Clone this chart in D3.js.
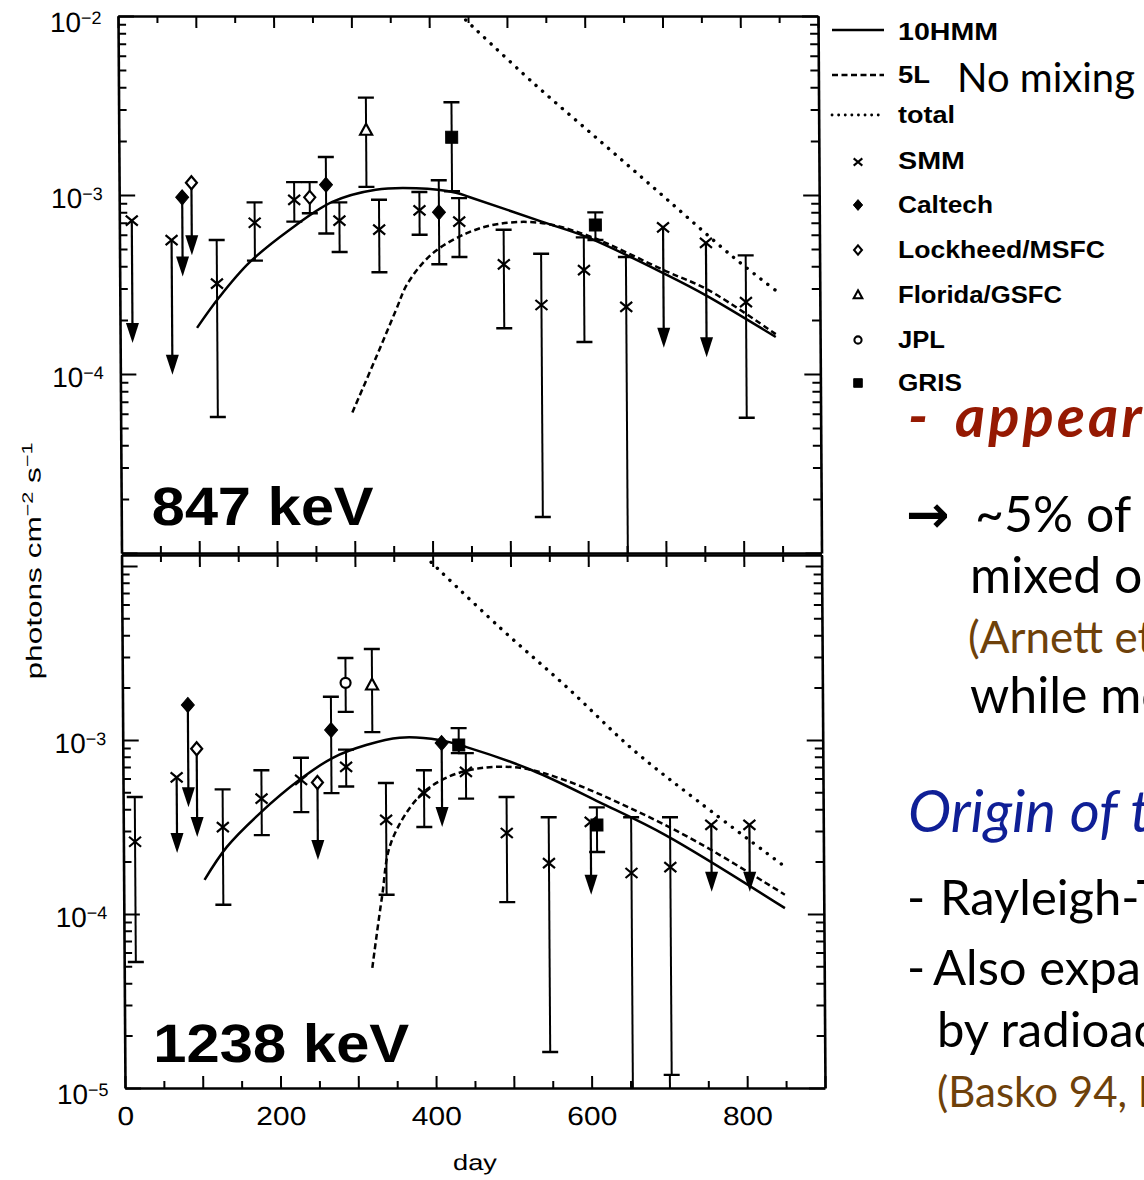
<!DOCTYPE html>
<html>
<head>
<meta charset="utf-8">
<script src="https://cdn.jsdelivr.net/npm/d3@7"></script>
<style>
  html, body { margin: 0; padding: 0; background: #fff; }
  svg { display: block; }
</style>
</head>
<body>
<svg id="fig" width="1144" height="1180"></svg>
<script>
// ------------------------------------------------------------------
// Gamma-ray line fluxes of SN 1987A (56Co decay lines) versus time
// ------------------------------------------------------------------

// axis labelling
const dayLabels = [0, 200, 400, 600, 800];
const decades847 = [-2, -3, -4];
const decades1238 = [-3, -4, -5];

// detections: [day, flux, lower, upper]  (lower 0 = bar runs off the axis)
// upper limits: [day, limit, arrow end]
// ---- 847 keV ----
const smm847 = [
  [125, 3.2e-4, 5.75e-5, 5.6e-4],
  [174, 7.0e-4, 4.3e-4, 9.1e-4],
  [225, 9.4e-4, 7.1e-4, 1.18e-3],
  [283, 7.2e-4, 4.8e-4, 9.1e-4],
  [334, 6.4e-4, 3.7e-4, 9.4e-4],
  [386, 8.2e-4, 6.0e-4, 1.04e-3],
  [437, 7.1e-4, 4.5e-4, 9.6e-4],
  [494, 4.1e-4, 1.8e-4, 6.4e-4],
  [542, 2.43e-4, 1.59e-5, 4.7e-4],
  [597, 3.8e-4, 1.51e-4, 5.8e-4],
  [651, 2.37e-4, 0, 4.5e-4],
  [805, 2.52e-4, 5.7e-5, 4.6e-4]
];
const smm847Limits = [
  [16, 7.2e-4, 1.49e-4],
  [67, 5.6e-4, 9.9e-5],
  [699, 6.6e-4, 1.4e-4],
  [754, 5.4e-4, 1.24e-4]
];
const caltech847 = [
  [266, 1.14e-3, 6.1e-4, 1.63e-3],
  [411, 8.0e-4, 4.1e-4, 1.21e-3]
];
const caltech847Limits = [[81, 9.7e-4, 3.5e-4]];
const lockheed847 = [[245, 9.7e-4, 7.9e-4, 1.18e-3]];
const lockheed847Limits = [[93, 1.17e-3, 4.6e-4]];
const florida847 = [[318, 2.3e-3, 1.11e-3, 3.5e-3]];
const jpl847 = [];
const gris847 = [
  [428, 2.1e-3, 1.05e-3, 3.3e-3],
  [612, 6.8e-4, 5.6e-4, 8.0e-4]
];
// model light curves: [day, flux]
const hmm847 = [
  [99, 1.81e-4], [128, 2.69e-4], [167, 4.2e-4], [219, 6.4e-4], [274, 9.15e-4],
  [330, 1.07e-3], [382, 1.09e-3], [433, 1.03e-3], [450, 9.75e-4], [543, 7.1e-4],
  [602, 5.8e-4], [704, 3.57e-4], [753, 2.76e-4], [843, 1.61e-4]
];
const l5847 = [
  [298, 6.1e-5], [329, 1.24e-4], [355, 2.28e-4], [370, 3.2e-4], [402, 4.7e-4],
  [446, 6.1e-4], [488, 6.9e-4], [540, 7.0e-4], [600, 5.98e-4], [702, 3.76e-4],
  [757, 2.94e-4], [843, 1.67e-4]
];
const total847 = [
  [447, 9.5e-3], [532, 4.28e-3], [620, 1.98e-3], [705, 9.4e-4], [789, 4.5e-4], [846, 2.87e-4]
];

// ---- 1238 keV ----
const smm1238 = [
  [15, 2.6e-4, 5.3e-5, 4.7e-4],
  [128, 3.16e-4, 1.13e-4, 5.2e-4],
  [178, 4.6e-4, 2.84e-4, 6.7e-4],
  [229, 5.9e-4, 3.85e-4, 7.9e-4],
  [287, 7.0e-4, 5.4e-4, 8.8e-4],
  [338, 3.47e-4, 1.29e-4, 5.66e-4],
  [387, 4.95e-4, 3.16e-4, 6.7e-4],
  [441, 6.55e-4, 4.6e-4, 8.4e-4],
  [493, 2.92e-4, 1.17e-4, 4.7e-4],
  [547, 1.96e-4, 1.61e-5, 3.6e-4],
  [653, 1.72e-4, 0, 3.6e-4],
  [703, 1.86e-4, 1.19e-5, 3.6e-4]
];
const smm1238Limits = [
  [69, 6.1e-4, 2.24e-4],
  [601, 3.38e-4, 1.29e-4],
  [756, 3.25e-4, 1.34e-4],
  [805, 3.25e-4, 1.34e-4]
];
const caltech1238 = [[268, 1.14e-3, 4.95e-4, 1.77e-3]];
const caltech1238Limits = [[84, 1.59e-3, 4.1e-4], [410, 9.6e-4, 3.16e-4]];
const lockheed1238 = [];
const lockheed1238Limits = [[95, 8.9e-4, 2.77e-4], [250, 5.7e-4, 2.04e-4]];
const florida1238 = [[321, 2.07e-3, 1.11e-3, 3.33e-3]];
const jpl1238 = [[287, 2.13e-3, 1.45e-3, 2.96e-3]];
const gris1238 = [
  [432, 9.35e-4, 8.4e-4, 1.17e-3],
  [609, 3.25e-4, 2.27e-4, 4.1e-4]
];
const hmm1238 = [
  [104, 1.57e-4], [133, 2.43e-4], [176, 3.8e-4], [227, 5.9e-4], [270, 7.9e-4],
  [313, 9.35e-4], [356, 1.03e-3], [407, 1.0e-3], [442, 9.1e-4], [526, 6.7e-4],
  [612, 4.4e-4], [697, 2.84e-4], [850, 1.08e-4]
];
const l51238 = [
  [319, 4.9e-5], [332, 1.25e-4], [344, 2.56e-4], [380, 4.7e-4], [417, 6.1e-4],
  [461, 6.9e-4], [512, 6.9e-4], [567, 5.9e-4], [650, 4.1e-4], [740, 2.56e-4],
  [850, 1.29e-4]
];
const total1238 = [
  [398, 1.05e-2], [485, 4.46e-3], [571, 2.02e-3], [656, 8.8e-4], [742, 4.35e-4], [851, 1.86e-4]
];

// legend entries
const legendLines = [
  { name: "10HMM", dash: null },
  { name: "5L", dash: "6 3.5" },
  { name: "total", dash: "0.1 6.5" }
];
const legendMarkers = ["SMM", "Caltech", "Lockheed/MSFC", "Florida/GSFC", "JPL", "GRIS"];

// ------------------------------------------------------------------
const svg = d3.select("#fig");
const INK = "#000";
const plotFont = "'Liberation Sans', Arial, Helvetica, sans-serif";

const x = d3.scaleLinear().domain([0, 900]).range([121.5, 821.5]);

const panels = [
  {
    label: "847 keV", labelAt: [152, 525, 222],
    y: d3.scaleLog().domain([1e-5, 1e-2]).range([553, 16]),
    decades: decades847, showDays: false,
    sets: {
      SMM: [smm847, smm847Limits], Caltech: [caltech847, caltech847Limits],
      Lockheed: [lockheed847, lockheed847Limits], Florida: [florida847, []],
      JPL: [jpl847, []], GRIS: [gris847, []]
    },
    hmm: hmm847, l5: l5847, total: total847
  },
  {
    label: "1238 keV", labelAt: [150, 1062, 256],
    y: d3.scaleLog().domain([1e-5, 1.156e-2]).range([1088, 555]),
    decades: decades1238, showDays: true,
    sets: {
      SMM: [smm1238, smm1238Limits], Caltech: [caltech1238, caltech1238Limits],
      Lockheed: [lockheed1238, lockheed1238Limits], Florida: [florida1238, []],
      JPL: [jpl1238, []], GRIS: [gris1238, []]
    },
    hmm: hmm1238, l5: l51238, total: total1238
  }
];

// marker glyphs
const glyph = {
  SMM:      { d: "M-6,-5L6,5M-6,5L6,-5", fill: "none", stroke: INK, sw: 2.2 },
  Caltech:  { d: "M0,-7.5L6.5,0L0,7.5L-6.5,0Z", fill: INK, stroke: INK, sw: 1 },
  Lockheed: { d: "M0,-6.5L5.5,0L0,6.5L-5.5,0Z", fill: "#fff", stroke: INK, sw: 2.2 },
  Florida:  { d: "M0,-6.5L6,4.5L-6,4.5Z", fill: "#fff", stroke: INK, sw: 2.2 },
  JPL:      { d: "M5,0A5,5 0 1 1 -5,0A5,5 0 1 1 5,0Z", fill: "#fff", stroke: INK, sw: 2.2 },
  GRIS:     { d: "M-6,-6H6V6H-6Z", fill: INK, stroke: INK, sw: 1 }
};

// the whole figure frame is a slightly sheared scan
const chart = svg.append("g")
  .attr("transform", "translate(0,552) skewX(0.374) translate(0,-552)");

function logTicks(domain) {
  const out = [];
  for (let k = -6; k <= -1; k++) {
    for (let m = 1; m <= 9; m++) {
      const v = m * Math.pow(10, k);
      if (v >= domain[0] * 0.999 && v <= domain[1] * 1.001) out.push(v);
    }
  }
  return out;
}
const isDecade = v => Math.abs(Math.log10(v) - Math.round(Math.log10(v))) < 1e-6;

panels.forEach((p, i) => {
  const g = chart.append("g");
  const [yBot, yTop] = p.y.range();
  const [xL, xR] = x.range();

  const clipId = "clip" + i;
  g.append("clipPath").attr("id", clipId)
    .append("rect").attr("x", xL).attr("y", yTop).attr("width", xR - xL).attr("height", yBot - yTop);

  // ---- axes ----
  const dayTicks = d3.range(0, 901, 50);
  const styleAxis = sel => {
    sel.select(".domain").attr("stroke", INK).attr("stroke-width", 2.6);
    sel.selectAll(".tick line").attr("stroke", INK).attr("stroke-width", 2);
  };

  const bottom = g.append("g").attr("transform", `translate(0,${yBot})`)
    .call(d3.axisBottom(x).tickValues(dayTicks).tickSizeInner(-12).tickSizeOuter(0)
      .tickFormat(d => (p.showDays && dayLabels.includes(d)) ? d : ""));
  styleAxis(bottom);
  bottom.selectAll(".tick line").attr("y2", d => d % 100 ? -7 : -12);
  bottom.selectAll(".tick text")
    .attr("y", 37).attr("dy", null)
    .attr("font-family", plotFont).attr("font-size", 26).attr("fill", INK)
    .attr("textLength", d => String(d).length * 16.7).attr("lengthAdjust", "spacingAndGlyphs");

  const top = g.append("g").attr("transform", `translate(0,${yTop})`)
    .call(d3.axisTop(x).tickValues(dayTicks).tickSizeInner(-12).tickSizeOuter(0).tickFormat(""));
  styleAxis(top);
  top.selectAll(".tick line").attr("y2", d => d % 100 ? 7 : 12);

  const yt = logTicks(p.y.domain());
  const left = g.append("g").attr("transform", `translate(${xL},0)`)
    .call(d3.axisLeft(p.y).tickValues(yt).tickSizeInner(-16).tickSizeOuter(0).tickFormat(""));
  styleAxis(left);
  left.selectAll(".tick line").attr("x2", d => isDecade(d) ? 16 : 8);

  const right = g.append("g").attr("transform", `translate(${xR},0)`)
    .call(d3.axisRight(p.y).tickValues(yt).tickSizeInner(-16).tickSizeOuter(0).tickFormat(""));
  styleAxis(right);
  right.selectAll(".tick line").attr("x2", d => isDecade(d) ? -16 : -8);

  // decade labels, 10 with a superscript exponent
  p.decades.forEach((k, j) => {
    const edge = (j === 0 && i === 0) || (j === p.decades.length - 1 && i === 1);
    const t = g.append("text")
      .attr("x", xL - 16.5).attr("y", p.y(Math.pow(10, k)) + (edge ? 16 : 13))
      .attr("text-anchor", "end").attr("font-family", plotFont).attr("fill", INK);
    t.append("tspan").attr("font-size", 28).text("10");
    t.append("tspan").attr("font-size", 18).attr("dy", -8).text("\u2212" + Math.abs(k));
  });

  // ---- model curves ----
  const line = d3.line().x(d => x(d[0])).y(d => p.y(d[1])).curve(d3.curveCatmullRom.alpha(0.5));
  const curves = g.append("g").attr("clip-path", `url(#${clipId})`).attr("fill", "none").attr("stroke", INK);
  curves.append("path").attr("d", line(p.total)).attr("stroke-width", 3.4)
    .attr("stroke-linecap", "round").attr("stroke-dasharray", "0.1 8.6");
  curves.append("path").attr("d", line(p.l5)).attr("stroke-width", 2.5).attr("stroke-dasharray", "6 3.5");
  curves.append("path").attr("d", line(p.hmm)).attr("stroke-width", 2.5);

  // ---- measurements ----
  const marks = g.append("g").attr("clip-path", `url(#${clipId})`);
  const cap = 8;
  Object.entries(p.sets).forEach(([inst, [det, lim]]) => {
    det.forEach(d => {
      const cx = x(d[0]);
      const yHi = p.y(d[3]);
      const yLo = d[2] > 0 ? p.y(d[2]) : yBot;
      marks.append("line").attr("x1", cx).attr("x2", cx).attr("y1", yHi).attr("y2", yLo)
        .attr("stroke", INK).attr("stroke-width", 2);
      marks.append("line").attr("x1", cx - cap).attr("x2", cx + cap).attr("y1", yHi).attr("y2", yHi)
        .attr("stroke", INK).attr("stroke-width", 2.4);
      if (d[2] > 0) {
        marks.append("line").attr("x1", cx - cap).attr("x2", cx + cap).attr("y1", yLo).attr("y2", yLo)
          .attr("stroke", INK).attr("stroke-width", 2.4);
      }
    });
    lim.forEach(d => {
      const cx = x(d[0]);
      const y0 = p.y(d[1]);
      const y1 = p.y(d[2]);
      marks.append("line").attr("x1", cx).attr("x2", cx).attr("y1", y0).attr("y2", y1 - 16)
        .attr("stroke", INK).attr("stroke-width", 2.2);
      marks.append("path")
        .attr("d", `M${cx - 6.5},${y1 - 20}L${cx + 6.5},${y1 - 20}L${cx},${y1}Z`)
        .attr("fill", INK);
    });
    const gl = glyph[inst];
    det.concat(lim).forEach(d => {
      marks.append("path").attr("d", gl.d)
        .attr("transform", `translate(${x(d[0])},${p.y(d[1])})`)
        .attr("fill", gl.fill).attr("stroke", gl.stroke).attr("stroke-width", gl.sw);
    });
  });

  // energy label
  g.append("text")
    .attr("x", p.labelAt[0]).attr("y", p.labelAt[1])
    .attr("font-family", plotFont).attr("font-weight", "bold").attr("font-size", 54)
    .attr("textLength", p.labelAt[2]).attr("lengthAdjust", "spacingAndGlyphs")
    .attr("fill", INK).text(p.label);
});

// axis titles
const yTitle = chart.append("text")
  .attr("transform", "translate(41,561) rotate(-90)")
  .attr("text-anchor", "middle").attr("font-family", plotFont).attr("font-size", 22)
  .attr("fill", INK).attr("textLength", 237).attr("lengthAdjust", "spacingAndGlyphs");
yTitle.append("tspan").text("photons cm");
yTitle.append("tspan").attr("font-size", 15).attr("dy", -8).text("\u22122");
yTitle.append("tspan").attr("dy", 8).text(" s");
yTitle.append("tspan").attr("font-size", 15).attr("dy", -8).text("\u22121");

chart.append("text")
  .attr("x", 471).attr("y", 1170).attr("text-anchor", "middle")
  .attr("font-family", plotFont).attr("font-size", 22).attr("fill", INK)
  .attr("textLength", 44).attr("lengthAdjust", "spacingAndGlyphs").text("day");

// ---- legend ----
const legend = svg.append("g").attr("font-family", plotFont).attr("font-weight", "bold")
  .attr("font-size", 24).attr("fill", INK);
const lineRows = [30, 75, 115];
const lineBase = [40, 83, 123];
const lineLen = [100, 32, 57];
legendLines.forEach((l, j) => {
  legend.append("line").attr("x1", 832).attr("x2", 884).attr("y1", lineRows[j]).attr("y2", lineRows[j])
    .attr("stroke", INK).attr("stroke-width", j === 2 ? 2.8 : 2.4)
    .attr("stroke-dasharray", l.dash).attr("stroke-linecap", j === 2 ? "round" : "butt");
  legend.append("text").attr("x", 898).attr("y", lineBase[j])
    .attr("textLength", lineLen[j]).attr("lengthAdjust", "spacingAndGlyphs").text(l.name);
});
const markRows = [162, 205, 250, 295, 340, 383];
const markBase = [169, 213, 258, 303, 348, 391];
const markLen = [67, 95, 207, 164, 47, 64];
const glyphKey = ["SMM", "Caltech", "Lockheed", "Florida", "JPL", "GRIS"];
legendMarkers.forEach((name, j) => {
  const gl = glyph[glyphKey[j]];
  legend.append("path").attr("d", gl.d)
    .attr("transform", `translate(858,${markRows[j]}) scale(0.72)`)
    .attr("fill", gl.fill).attr("stroke", gl.stroke).attr("stroke-width", gl.sw * 1.3);
  legend.append("text").attr("x", 898).attr("y", markBase[j])
    .attr("textLength", markLen[j]).attr("lengthAdjust", "spacingAndGlyphs").text(name);
});

// ---- slide notes beside the figure ----
const notes = svg.append("g").attr("font-family", "Lato, 'Open Sans', sans-serif");
notes.append("text").attr("x", 957).attr("y", 92).attr("font-size", 40).attr("fill", "#000").text("No mixing");

const red = "#951902", blue = "#0f1f96", brown = "#6e410a";
const h1 = notes.append("text").attr("y", 437).attr("font-size", 58).attr("font-weight", "bold")
  .attr("font-style", "italic").attr("fill", red);
h1.append("tspan").attr("x", 908).text("-");
h1.append("tspan").attr("x", 955).attr("letter-spacing", 3).text("appearance");

const arrowLine = notes.append("text").attr("y", 532).attr("font-size", 50).attr("fill", "#000");
arrowLine.append("tspan").attr("x", 906).attr("font-family", "'DejaVu Sans', sans-serif")
  .attr("font-size", 52).attr("font-weight", "bold").text("\u2192");
arrowLine.append("tspan").attr("x", 975).text("~5% of");

notes.append("text").attr("x", 970).attr("y", 593).attr("font-size", 50).attr("fill", "#000").text("mixed out");
notes.append("text").attr("x", 968).attr("y", 653).attr("font-size", 44).attr("fill", brown).text("(Arnett et al.");
notes.append("text").attr("x", 970).attr("y", 713).attr("font-size", 50).attr("fill", "#000").text("while most");

notes.append("text").attr("x", 908).attr("y", 832).attr("font-size", 58).attr("font-style", "italic")
  .attr("fill", blue).text("Origin of the");

const b1 = notes.append("text").attr("y", 915).attr("font-size", 49).attr("fill", "#000");
b1.append("tspan").attr("x", 907).text("-");
b1.append("tspan").attr("x", 940).text("Rayleigh-Taylor");
const b2 = notes.append("text").attr("y", 985).attr("font-size", 49).attr("fill", "#000");
b2.append("tspan").attr("x", 907).text("-");
b2.append("tspan").attr("x", 933).text("Also expansion");
notes.append("text").attr("x", 937).attr("y", 1047).attr("font-size", 49).attr("fill", "#000").text("by radioactive");
notes.append("text").attr("x", 937).attr("y", 1107).attr("font-size", 42).attr("fill", brown).text("(Basko 94, Herant");
</script>
</body>
</html>
